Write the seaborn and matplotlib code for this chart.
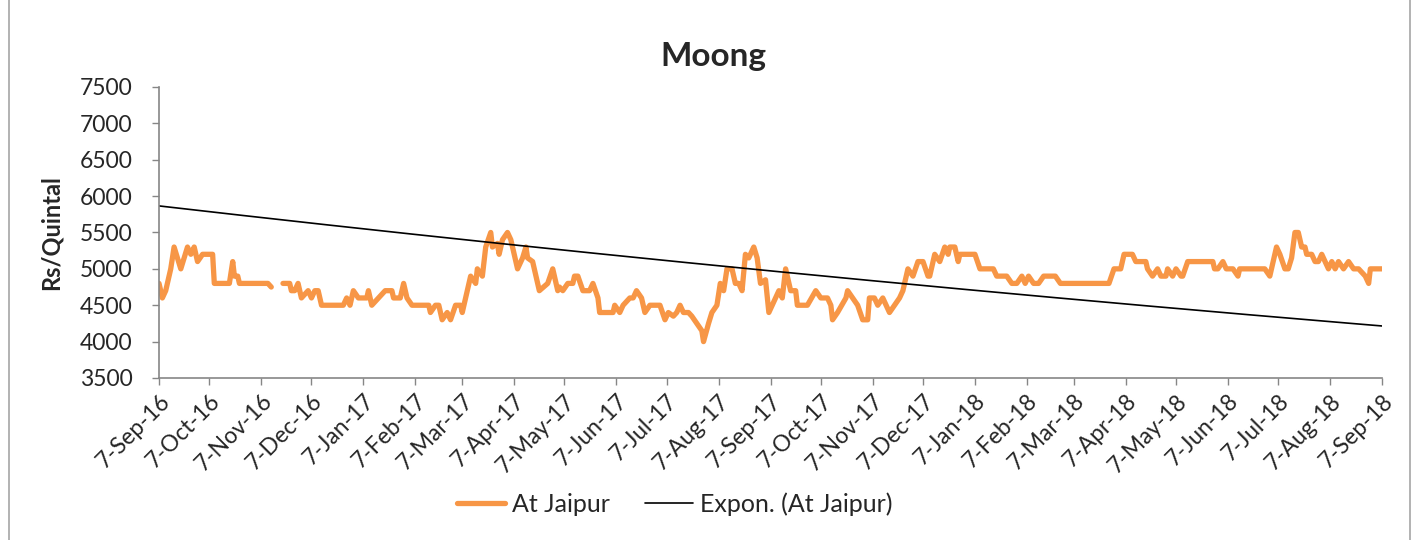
import matplotlib
matplotlib.use("Agg")
import matplotlib.pyplot as plt
import matplotlib.dates as mdates
from matplotlib.lines import Line2D
from matplotlib.patches import Rectangle
import numpy as np
import pandas as pd
import seaborn as sns

# Moong wholesale price at Jaipur (Rs/Quintal)
jaipur_autumn16 = [
    ("2016-09-07", 4800), ("2016-09-09", 4600), ("2016-09-11", 4700), ("2016-09-14", 5000),
    ("2016-09-16", 5300), ("2016-09-20", 5000), ("2016-09-24", 5300), ("2016-09-26", 5200),
    ("2016-09-28", 5300), ("2016-09-30", 5100), ("2016-10-03", 5200), ("2016-10-09", 5200),
    ("2016-10-10", 4800), ("2016-10-19", 4800), ("2016-10-21", 5100), ("2016-10-22", 4900),
    ("2016-10-24", 4900), ("2016-10-25", 4800), ("2016-11-11", 4800), ("2016-11-13", 4750),
]
jaipur_2017 = [
    ("2016-11-20", 4800), ("2016-11-24", 4800), ("2016-11-25", 4700), ("2016-11-27", 4700),
    ("2016-11-29", 4800), ("2016-12-01", 4600), ("2016-12-05", 4700), ("2016-12-07", 4600),
    ("2016-12-09", 4700), ("2016-12-11", 4700), ("2016-12-13", 4500), ("2016-12-26", 4500),
    ("2016-12-28", 4600), ("2016-12-30", 4500), ("2017-01-01", 4700), ("2017-01-04", 4600),
    ("2017-01-09", 4600), ("2017-01-10", 4700), ("2017-01-12", 4500), ("2017-01-16", 4600),
    ("2017-01-20", 4700), ("2017-01-24", 4700), ("2017-01-25", 4600), ("2017-01-29", 4600),
    ("2017-01-31", 4800), ("2017-02-02", 4600), ("2017-02-05", 4500), ("2017-02-15", 4500),
    ("2017-02-16", 4400), ("2017-02-19", 4500), ("2017-02-21", 4500), ("2017-02-23", 4300),
    ("2017-02-26", 4400), ("2017-02-28", 4300), ("2017-03-03", 4500), ("2017-03-06", 4500),
    ("2017-03-07", 4400), ("2017-03-09", 4600), ("2017-03-12", 4900), ("2017-03-15", 4800),
    ("2017-03-16", 5000), ("2017-03-19", 4900), ("2017-03-21", 5300), ("2017-03-24", 5500),
    ("2017-03-25", 5300), ("2017-03-28", 5350), ("2017-03-29", 5200), ("2017-03-31", 5400),
    ("2017-04-03", 5500), ("2017-04-05", 5400), ("2017-04-09", 5000), ("2017-04-12", 5150),
    ("2017-04-14", 5300), ("2017-04-15", 5150), ("2017-04-18", 5100), ("2017-04-22", 4700),
    ("2017-04-27", 4800), ("2017-04-30", 5000), ("2017-05-03", 4700), ("2017-05-04", 4750),
    ("2017-05-06", 4700), ("2017-05-09", 4800), ("2017-05-12", 4800), ("2017-05-13", 4900),
    ("2017-05-15", 4900), ("2017-05-18", 4700), ("2017-05-22", 4700), ("2017-05-24", 4800),
    ("2017-05-27", 4600), ("2017-05-28", 4400), ("2017-06-05", 4400), ("2017-06-06", 4500),
    ("2017-06-09", 4400), ("2017-06-11", 4500), ("2017-06-15", 4600), ("2017-06-17", 4600),
    ("2017-06-19", 4700), ("2017-06-22", 4600), ("2017-06-24", 4400), ("2017-06-27", 4500),
    ("2017-07-03", 4500), ("2017-07-06", 4300), ("2017-07-08", 4400), ("2017-07-11", 4350),
    ("2017-07-13", 4400), ("2017-07-15", 4500), ("2017-07-17", 4400), ("2017-07-20", 4400),
    ("2017-07-22", 4350), ("2017-07-25", 4250), ("2017-07-28", 4150), ("2017-07-29", 4000),
    ("2017-08-01", 4250), ("2017-08-03", 4400), ("2017-08-06", 4500), ("2017-08-08", 4800),
    ("2017-08-10", 4700), ("2017-08-12", 5000), ("2017-08-15", 5000), ("2017-08-17", 4800),
    ("2017-08-19", 4800), ("2017-08-21", 4700), ("2017-08-23", 5200), ("2017-08-25", 5150),
    ("2017-08-28", 5300), ("2017-08-30", 5150), ("2017-09-01", 4800), ("2017-09-04", 4850),
    ("2017-09-06", 4400), ("2017-09-09", 4550), ("2017-09-12", 4700), ("2017-09-14", 4600),
    ("2017-09-16", 5000), ("2017-09-19", 4700), ("2017-09-22", 4700), ("2017-09-23", 4500),
    ("2017-09-29", 4500), ("2017-10-04", 4700), ("2017-10-07", 4600), ("2017-10-11", 4600),
    ("2017-10-13", 4500), ("2017-10-14", 4300), ("2017-10-17", 4400), ("2017-10-22", 4600),
    ("2017-10-23", 4700), ("2017-10-26", 4600), ("2017-10-29", 4500), ("2017-11-01", 4300),
    ("2017-11-04", 4300), ("2017-11-05", 4600), ("2017-11-08", 4600), ("2017-11-10", 4500),
    ("2017-11-13", 4600), ("2017-11-17", 4400), ("2017-11-20", 4500), ("2017-11-23", 4600),
    ("2017-11-25", 4700),
]
jaipur_2018 = [
    ("2017-11-28", 5000), ("2017-12-01", 4900), ("2017-12-04", 5100), ("2017-12-07", 5100),
    ("2017-12-10", 4900), ("2017-12-11", 4900), ("2017-12-14", 5200), ("2017-12-17", 5100),
    ("2017-12-20", 5300), ("2017-12-22", 5200), ("2017-12-23", 5300), ("2017-12-26", 5300),
    ("2017-12-28", 5100), ("2017-12-29", 5200), ("2018-01-07", 5200), ("2018-01-10", 5000),
    ("2018-01-18", 5000), ("2018-01-20", 4900), ("2018-01-26", 4900), ("2018-01-29", 4800),
    ("2018-02-01", 4800), ("2018-02-04", 4900), ("2018-02-06", 4800), ("2018-02-08", 4900),
    ("2018-02-11", 4800), ("2018-02-14", 4800), ("2018-02-17", 4900), ("2018-02-24", 4900),
    ("2018-02-27", 4800), ("2018-03-28", 4800), ("2018-03-31", 5000), ("2018-04-04", 5000),
    ("2018-04-06", 5200), ("2018-04-11", 5200), ("2018-04-13", 5100), ("2018-04-19", 5100),
    ("2018-04-20", 5000), ("2018-04-23", 4900), ("2018-04-26", 5000), ("2018-04-28", 4900),
    ("2018-05-01", 4900), ("2018-05-02", 5000), ("2018-05-05", 4900), ("2018-05-07", 5000),
    ("2018-05-10", 4900), ("2018-05-11", 4900), ("2018-05-14", 5100), ("2018-05-29", 5100),
    ("2018-05-30", 5000), ("2018-06-01", 5000), ("2018-06-04", 5100), ("2018-06-06", 5000),
    ("2018-06-10", 5000), ("2018-06-13", 4900), ("2018-06-14", 5000), ("2018-06-29", 5000),
    ("2018-07-02", 4900), ("2018-07-06", 5300), ("2018-07-08", 5200), ("2018-07-11", 5000),
    ("2018-07-13", 5000), ("2018-07-15", 5150), ("2018-07-17", 5500), ("2018-07-19", 5500),
    ("2018-07-21", 5300), ("2018-07-23", 5300), ("2018-07-24", 5200), ("2018-07-27", 5200),
    ("2018-07-29", 5100), ("2018-07-31", 5100), ("2018-08-02", 5200), ("2018-08-04", 5100),
    ("2018-08-06", 5000), ("2018-08-08", 5100), ("2018-08-10", 5000), ("2018-08-12", 5100),
    ("2018-08-15", 5000), ("2018-08-18", 5100), ("2018-08-21", 5000), ("2018-08-24", 5000),
    ("2018-08-28", 4900), ("2018-08-30", 4800), ("2018-08-31", 5000), ("2018-09-02", 5000),
    ("2018-09-07", 5000),
]

# exponential trendline end values (Excel "Expon." fit)
trend_dates = ["2016-09-07", "2018-09-07"]
trend_values = [5865, 4215]

y_ticks = [3500, 4000, 4500, 5000, 5500, 6000, 6500, 7000, 7500]

ORANGE = "#F79646"
GREY = "#868686"

sns.set_theme(style="white")
plt.rcParams["font.family"] = ["Lato", "DejaVu Sans"]

# one frame, gap kept by drawing the two pieces as separate units
parts = []
for seg, rows in enumerate([jaipur_autumn16, jaipur_2017 + jaipur_2018]):
    part = pd.DataFrame(rows, columns=["date", "price"])
    part["seg"] = seg
    parts.append(part)
df = pd.concat(parts, ignore_index=True)
df["date"] = pd.to_datetime(df["date"])

t0, t1 = pd.to_datetime(trend_dates)
trend_x = pd.date_range(t0, t1, freq="5D").append(pd.DatetimeIndex([t1]))
frac = (trend_x - t0) / (t1 - t0)
trend = pd.DataFrame({
    "date": trend_x,
    "price": trend_values[0] * (trend_values[1] / trend_values[0]) ** np.asarray(frac),
})

fig = plt.figure(figsize=(14.21, 5.4), dpi=100)
fig.patches.append(Rectangle((0.006, -0.01), 0.986, 1.02, transform=fig.transFigure,
                             fill=False, edgecolor="#A6A6A6", linewidth=1.2))
ax = fig.add_axes([0.1119, 0.300, 0.8607, 0.539])

sns.lineplot(data=df, x="date", y="price", units="seg", estimator=None,
             color=ORANGE, linewidth=3.8, ax=ax, legend=False)
sns.lineplot(data=trend, x="date", y="price", color="black", linewidth=1.2,
             ax=ax, legend=False)

ax.set_xlim(t0, t1)
ax.set_ylim(y_ticks[0], y_ticks[-1])
ax.set_yticks(y_ticks)
ax.xaxis.set_major_locator(mdates.MonthLocator(bymonthday=7))
ax.xaxis.set_major_formatter(
    plt.FuncFormatter(lambda v, _: (lambda d: f"{d.day}-{d:%b-%y}")(mdates.num2date(v))))
ax.tick_params(axis="both", which="major", length=5, width=1, color=GREY,
               labelsize=16.5, pad=4, left=True, bottom=True)
ax.tick_params(axis="y", pad=14)
for lab in ax.get_xticklabels():
    lab.set_rotation(45)
    lab.set_ha("right")
    lab.set_rotation_mode("anchor")

for side in ["top", "right"]:
    ax.spines[side].set_visible(False)
for side in ["left", "bottom"]:
    ax.spines[side].set_color(GREY)
    ax.spines[side].set_linewidth(1.2)

ax.set_xlabel("")
ax.set_ylabel("Rs/Quintal", fontsize=17, fontweight="bold", labelpad=12)
fig.text(0.502, 0.895, "Moong", ha="center", va="center", fontsize=24, fontweight="bold")

handles = [
    Line2D([], [], color=ORANGE, linewidth=3.8, solid_capstyle="round"),
    Line2D([], [], color="black", linewidth=1.2),
]
fig.legend(handles, ["At Jaipur", "Expon. (At Jaipur)"], loc="center",
           bbox_to_anchor=(0.475, 0.066), ncol=2, frameon=False, fontsize=18,
           handlelength=1.9, handletextpad=0.3, columnspacing=1.4)

fig.savefig("out.png", dpi=100)
